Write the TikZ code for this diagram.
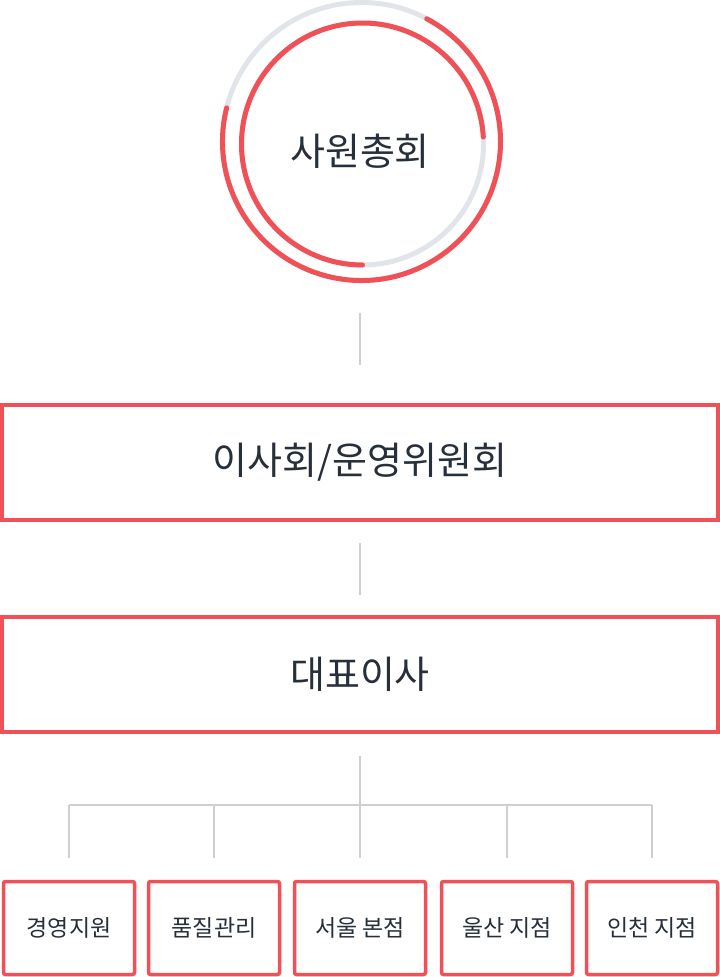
\documentclass[tikz,border=0pt]{standalone}
\usepackage{fontspec}
\setmainfont{Noto Sans CJK KR}
\usetikzlibrary{positioning}
\definecolor{ringred}{HTML}{F05157}
\definecolor{ringgray}{HTML}{E1E5EA}
\definecolor{linkgray}{HTML}{CFCFCF}
\definecolor{inkdark}{HTML}{262F3A}
\tikzset{
  ringtext/.style={circle, minimum size=278pt, inner sep=0pt, text=inkdark, font=\fontsize{38}{44}\selectfont},
  bigbox/.style={rectangle, draw=ringred, line width=4pt, minimum width=716pt, minimum height=115pt, inner sep=0pt, text=inkdark, font=\fontsize{38}{44}\selectfont},
  deptbox/.style={rectangle, draw=ringred, line width=3.5pt, rounded corners=2pt, minimum width=131pt, minimum height=93pt, inner sep=0pt, text=inkdark, font=\fontsize{23}{27}\selectfont},
  redring/.style={draw=ringred, line width=5pt, line cap=round},
  grayring/.style={draw=ringgray, line width=5pt},
  link/.style={draw=linkgray, line width=1.6pt}
}
\begin{document}
\begin{tikzpicture}[x=1pt, y=1pt]
  \useasboundingbox (0,0) rectangle (720,-977);
  % general meeting rings
  \coordinate (outerc) at (361.5,-141.5);
  \coordinate (innerc) at (362.5,-144);
  \draw[grayring] (outerc) circle[radius=139];
  \draw[redring] (outerc) ++(166:139) arc[start angle=166, end angle=422, radius=139];
  \draw[grayring] (innerc) circle[radius=121];
  \draw[redring] (innerc) ++(3.3:121) arc[start angle=3.3, end angle=270, radius=121];
  \node[ringtext] (gm) at (360,-151) {사원총회};
  \node[bigbox] (board) at (360,-462.5) {이사회/운영위원회};
  \node[bigbox] (ceo) at (360,-674.5) {대표이사};
  \draw[link, shorten <=23pt, shorten >=38pt] (gm) -- (board);
  \draw[link, shorten <=21pt, shorten >=20pt] (board) -- (ceo);
  % departments
  \node[deptbox] (d1) at (69,-928) {경영지원};
  \node[deptbox] (d2) at (214,-928) {품질관리};
  \node[deptbox] (d3) at (360,-928) {서울 본점};
  \node[deptbox] (d4) at (507,-928) {울산 지점};
  \node[deptbox] (d5) at (652,-928) {인천 지점};
  \coordinate (bus) at (360,-805);
  \draw[link, shorten <=22pt] (ceo) -- (bus);
  \draw[link] (d1.north |- bus) -- (d5.north |- bus);
  \draw[link, shorten >=22pt] (d1.north |- bus) -- (d1); \draw[link, shorten >=22pt] (d2.north |- bus) -- (d2);
  \draw[link, shorten >=22pt] (bus) -- (d3);
  \draw[link, shorten >=22pt] (d4.north |- bus) -- (d4); \draw[link, shorten >=22pt] (d5.north |- bus) -- (d5);
\end{tikzpicture}
\end{document}
